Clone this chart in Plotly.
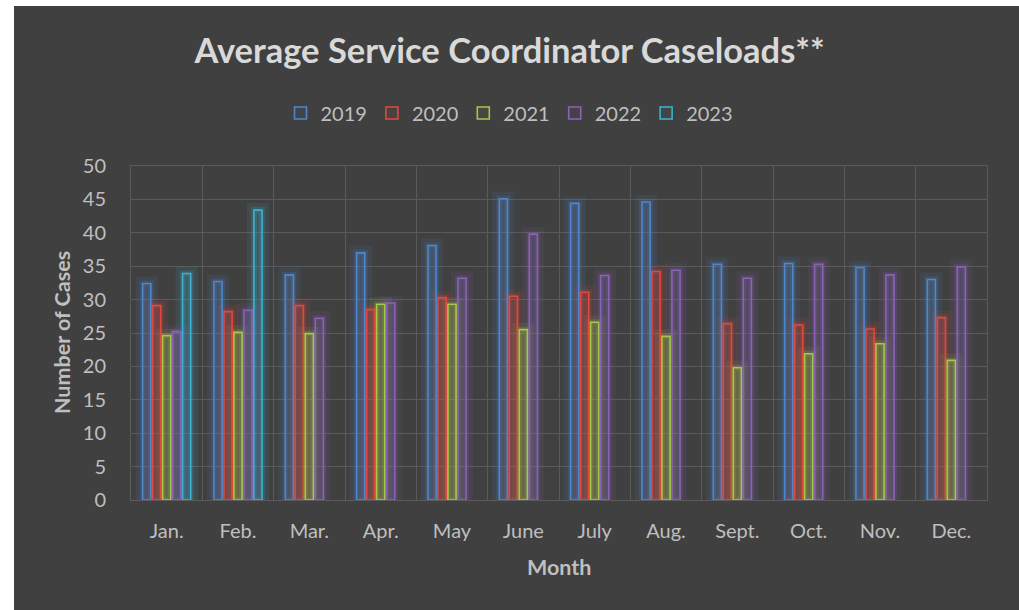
import plotly.graph_objects as go

months = ["Jan.", "Feb.", "Mar.", "Apr.", "May", "June", "July", "Aug.", "Sept.", "Oct.", "Nov.", "Dec."]
years = ["2019", "2020", "2021", "2022", "2023"]
v2019 = [32.4, 32.7, 33.7, 37.0, 38.1, 45.1, 44.4, 44.6, 35.3, 35.4, 34.8, 33.0]
v2020 = [29.1, 28.2, 29.1, 28.5, 30.3, 30.5, 31.1, 34.2, 26.4, 26.2, 25.6, 27.3]
v2021 = [24.6, 25.1, 24.9, 29.3, 29.3, 25.5, 26.6, 24.5, 19.8, 21.9, 23.4, 20.9]
v2022 = [25.2, 28.4, 27.2, 29.5, 33.2, 39.8, 33.6, 34.4, 33.2, 35.3, 33.7, 34.9]
v2023 = [33.9, 43.4, None, None, None, None, None, None, None, None, None, None]
series = [v2019, v2020, v2021, v2022, v2023]
colors = ["#4f86cc", "#e0493f", "#a3c84a", "#8a62b6", "#3cb2d0"]
y_ticks = [0, 5, 10, 15, 20, 25, 30, 35, 40, 45, 50]

FONT = "Lato"
BG = "#404040"


def rgba(h, a):
    h = h.lstrip("#")
    r, g, b = int(h[0:2], 16), int(h[2:4], 16), int(h[4:6], 16)
    return f"rgba({r},{g},{b},{a})"


fig = go.Figure()

# wide soft glow (base axis, drawn first / beneath)
for name, vals, c in zip(years, series, colors):
    fig.add_trace(go.Bar(
        x=months, y=vals, name=name, showlegend=False, hoverinfo="skip",
        marker=dict(color=rgba(c, 0.08), line=dict(color=rgba(c, 0.10), width=14)),
        xaxis="x", yaxis="y",
    ))

# inner glow
for name, vals, c in zip(years, series, colors):
    fig.add_trace(go.Bar(
        x=months, y=vals, name=name, showlegend=False, hoverinfo="skip",
        marker=dict(color=rgba(c, 0.06), line=dict(color=rgba(c, 0.18), width=6)),
        xaxis="x2", yaxis="y",
    ))

# main outlined bars
for name, vals, c in zip(years, series, colors):
    fig.add_trace(go.Bar(
        x=months, y=vals, name=name,
        marker=dict(color=rgba(c, 0.06), line=dict(color=c, width=1.6)),
        xaxis="x3", yaxis="y",
    ))

L, R, T, B = 131, 32, 166, 110
W, H = 1019, 610
pw, ph = W - L - R, H - T - B

hidden_x = dict(type="category", categoryorder="array", categoryarray=months,
                overlaying="x", matches="x", visible=False)

fig.update_layout(
    width=W, height=H,
    margin=dict(l=L, r=R, t=T, b=B),
    paper_bgcolor=BG, plot_bgcolor=BG,
    barmode="group", bargap=0.30, bargroupgap=0.18,
    font=dict(family=FONT, color="#bfbfbf", size=20),
    title=dict(text="<b>Average Service Coordinator Caseloads**</b>",
               x=0.5, xanchor="center", y=1 - 51 / H, yanchor="middle",
               font=dict(family=FONT, size=34.5, color="#d9d9d9")),
    legend=dict(orientation="h", x=0.5 + (W / 2 - L - pw / 2) / pw, xanchor="center",
                y=1 + (T - 113) / ph, yanchor="middle",
                font=dict(family=FONT, size=20, color="#bfbfbf"),
                bgcolor="rgba(0,0,0,0)", itemwidth=30),
    xaxis=dict(type="category", categoryorder="array", categoryarray=months,
               tickson="boundaries", showgrid=True, gridcolor="#5a5a5a", gridwidth=1,
               ticks="", ticklabelstandoff=13, tickfont=dict(size=20, color="#bfbfbf"),
               showline=True, linecolor="#5a5a5a", mirror=True, zeroline=False),
    xaxis2=hidden_x,
    xaxis3=hidden_x,
    yaxis=dict(range=[0, 50], tickvals=y_ticks, showgrid=True, gridcolor="#5a5a5a",
               gridwidth=1, ticks="", ticklabelstandoff=20, zeroline=False,
               tickfont=dict(size=20, color="#bfbfbf"),
               showline=True, linecolor="#5a5a5a", mirror=True),
    annotations=[
        dict(text="<b>Number of Cases</b>", xref="paper", yref="paper",
             x=(62 - L) / pw, y=0.5, xanchor="center", yanchor="middle",
             textangle=-90, showarrow=False,
             font=dict(family=FONT, size=21.5, color="#bfbfbf")),
        dict(text="<b>Month</b>", xref="paper", yref="paper",
             x=0.5, y=-(567 - (T + ph)) / ph, xanchor="center", yanchor="middle",
             showarrow=False, font=dict(family=FONT, size=21.5, color="#bfbfbf")),
    ],
    shapes=[
        dict(type="rect", xref="paper", yref="paper",
             x0=-L / pw - 0.01, x1=(14 - L) / pw, y0=-1, y1=2,
             fillcolor="white", line=dict(width=0), layer="above"),
        dict(type="rect", xref="paper", yref="paper",
             x0=-1, x1=2, y0=1 + (T - 6) / ph, y1=1 + T / ph + 0.05,
             fillcolor="white", line=dict(width=0), layer="above"),
    ],
)

fig.write_html(
    "out.html",
    config={"displayModeBar": False},
    post_script="document.body.style.margin='0';document.body.style.overflow='hidden';",
)
